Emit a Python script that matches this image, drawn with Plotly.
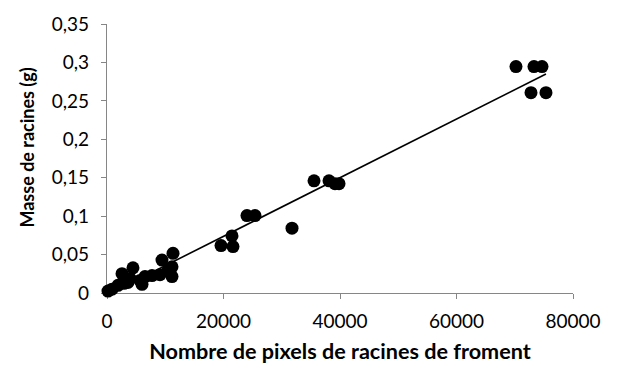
import numpy as np
import plotly.graph_objects as go

# Root pixel counts (wheat) and measured root mass (g)
pixels = [
    170, 860, 1890, 2920, 3600, 2580, 4460, 3950, 6010, 5670, 6520,
    7730, 9100, 9440, 11160, 11160, 11330, 10470,
    19570, 21630, 21460, 24030, 25410, 31760,
    35540, 38110, 39140, 39830,
    70210, 73300, 74680, 72790, 75360,
]
masse = [
    0.0025, 0.005, 0.010, 0.0126, 0.0138, 0.0252, 0.0327, 0.0189, 0.0113, 0.0164, 0.0214,
    0.0227, 0.0239, 0.0428, 0.034, 0.0214, 0.0516, 0.029,
    0.0617, 0.0604, 0.0743, 0.1007, 0.1007, 0.0844,
    0.146, 0.146, 0.1423, 0.1423,
    0.2946, 0.2946, 0.2946, 0.2606, 0.2606,
]

x_ticks = [0, 20000, 40000, 60000, 80000]
y_ticks = [0, 0.05, 0.1, 0.15, 0.2, 0.25, 0.3, 0.35]
y_tick_text = ["0", "0,05", "0,1", "0,15", "0,2", "0,25", "0,3", "0,35"]

# Linear trend line over the observed range
slope, intercept = np.polyfit(pixels, masse, 1)
x_fit = np.array([min(pixels), max(pixels)])
y_fit = slope * x_fit + intercept

font_family = "Lato, 'Open Sans', sans-serif"
axis_color = "#868686"

fig = go.Figure()
fig.add_trace(go.Scatter(
    x=x_fit, y=y_fit, mode="lines",
    line=dict(color="black", width=1.6),
    showlegend=False, hoverinfo="skip", cliponaxis=False,
))
fig.add_trace(go.Scatter(
    x=pixels, y=masse, mode="markers",
    marker=dict(color="black", size=13, line=dict(width=0)),
    showlegend=False, cliponaxis=False,
))

fig.update_layout(
    width=631, height=371,
    margin=dict(l=107, r=58, t=17, b=76),
    paper_bgcolor="white", plot_bgcolor="white",
    font=dict(family=font_family, size=19, color="black"),
    xaxis=dict(
        range=[0, 80000], tickvals=x_ticks, ticktext=[str(v) for v in x_ticks],
        showgrid=False, zeroline=False, showline=True, linecolor=axis_color, linewidth=1.3,
        ticks="outside", ticklen=5, tickcolor=axis_color, tickwidth=1.3,
        ticklabelstandoff=6,
        layer="below traces",
        title=dict(text="<b>Nombre de pixels de racines de froment</b>",
                   font=dict(size=21.6), standoff=12),
    ),
    yaxis=dict(
        range=[0, 0.35], tickvals=y_ticks, ticktext=y_tick_text,
        showgrid=False, zeroline=False, showline=True, linecolor=axis_color, linewidth=1.3,
        ticks="outside", ticklen=5, tickcolor=axis_color, tickwidth=1.3,
        ticklabelstandoff=8,
        layer="below traces",
    ),
    annotations=[dict(
        text="<b>Masse de racines (g)</b>", textangle=-90,
        xref="paper", yref="paper", x=-0.172, y=0.54,
        xanchor="center", yanchor="middle", showarrow=False,
        font=dict(size=18),
    )],
)

fig.write_html("out.html")
